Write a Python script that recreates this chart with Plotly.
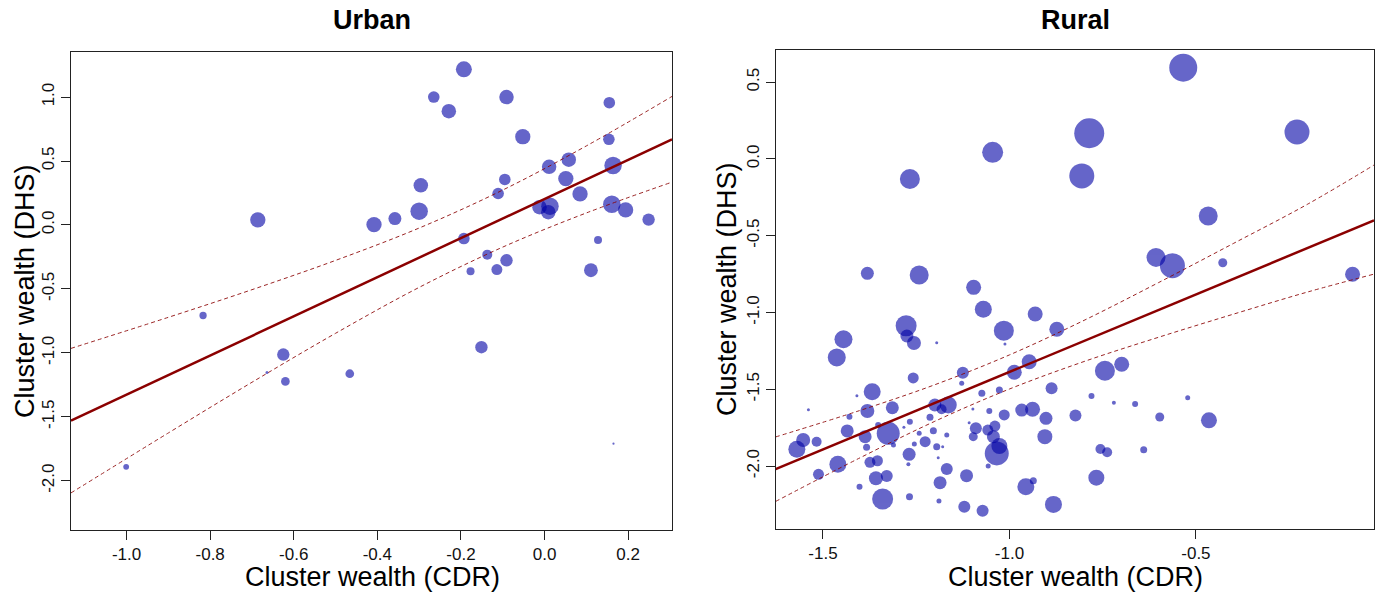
import plotly.graph_objects as go

# ---------------- data ----------------
urban_cdr = [-0.193, -0.265, -0.229, -0.091, 0.155, -0.052, 0.154, 0.058, 0.011, 0.164,
             0.051, -0.095, -0.296, -0.111, 0.085, -0.300, -0.358, -0.408, -0.686, -0.012,
             0.013, 0.009, 0.161, 0.194, 0.249, -0.193, 0.128, -0.137, -0.091, -0.177,
             -0.114, 0.111, -0.817, -0.625, -0.664, -0.620, -0.466, -0.151, -1.001, 0.165]
urban_dhs = [1.217, 1.00, 0.89, 1.00, 0.956, 0.69, 0.67, 0.51, 0.455, 0.465,
             0.363, 0.356, 0.31, 0.246, 0.243, 0.108, 0.05, 0.003, 0.04, 0.139,
             0.147, 0.10, 0.162, 0.118, 0.042, -0.106, -0.117, -0.232, -0.276, -0.362,
             -0.349, -0.354, -0.708, -1.013, -1.153, -1.223, -1.163, -0.956, -1.891, -1.71]
urban_weight = [16, 11.6, 14.5, 14.5, 11.6, 15.3, 11.6, 14.5, 14.5, 17.5,
                15.3, 11.6, 14.5, 11.6, 15.3, 17.5, 13, 15.3, 15.3, 14.5,
                17.5, 14.5, 17.5, 15.3, 12.4, 11.6, 8, 10, 12.4, 8,
                11, 13.8, 7.3, 12.4, 3, 8.7, 8.7, 12.4, 5.8, 2.2]

rural_cdr = [-1.267, -1.045, -0.534, -0.786, -0.806, -0.229, -0.467, -1.381, -1.242, -1.096,
             -1.070, -0.931, -0.873, -1.015, -1.277, -1.275, -1.256, -1.445, -1.195, -1.012,
             -1.463, -1.125, -1.258, -1.128, -1.368, -1.409, -1.074, -1.027, -0.987, -0.947,
             -0.887, -1.539, -1.314, -1.381, -1.200, -1.164, -1.182, -1.098, -1.054, -1.014,
             -0.967, -0.938, -0.902, -0.823, -1.429, -1.435, -1.553, -1.570, -1.517, -1.352,
             -1.387, -1.325, -1.267, -1.283, -1.242, -1.204, -1.213, -1.168, -1.226, -1.255,
             -1.195, -1.179, -1.383, -1.311, -1.269, -1.191, -1.090, -1.097, -1.058, -1.039,
             -1.043, -1.027, -1.034, -1.108, -0.905, -1.460, -1.374, -1.354, -1.271, -1.168,
             -1.057, -1.512, -1.358, -1.329, -1.115, -1.186, -1.402, -0.956, -0.936, -1.340,
             -1.268, -1.189, -1.121, -1.072, -0.882, -0.607, -0.563, -0.428, -0.080, -0.744,
             -0.699, -0.780, -0.720, -0.663, -0.522, -0.597, -0.465, -0.756, -0.738, -0.640,
             -0.767]
rural_dhs = [-0.131, 0.043, 0.594, 0.167, -0.111, 0.175, -0.372, -0.745, -0.756, -0.836,
             -0.979, -1.010, -1.109, -1.118, -1.086, -1.153, -1.198, -1.174, -1.197, -1.205,
             -1.292, -1.392, -1.426, -1.461, -1.516, -1.542, -1.526, -1.504, -1.389, -1.320,
             -1.493, -1.633, -1.620, -1.641, -1.602, -1.602, -1.630, -1.628, -1.641, -1.667,
             -1.635, -1.630, -1.689, -1.670, -1.678, -1.771, -1.830, -1.890, -1.841, -1.732,
             -1.808, -1.786, -1.711, -1.747, -1.786, -1.769, -1.682, -1.797, -1.841, -1.856,
             -1.874, -1.874, -1.877, -1.862, -1.923, -1.945, -1.754, -1.808, -1.765, -1.739,
             -1.808, -1.869, -1.917, -1.717, -1.808, -1.988, -1.975, -1.965, -1.988, -2.019,
             -1.999, -2.053, -2.079, -2.064, -2.062, -2.108, -2.134, -2.134, -2.095, -2.214,
             -2.199, -2.227, -2.264, -2.290, -2.249, -0.641, -0.695, -0.676, -0.751, -1.379,
             -1.337, -1.544, -1.587, -1.596, -1.555, -1.680, -1.702, -1.888, -1.910, -1.893,
             -2.075]
rural_weight = [20, 21, 28, 30, 25, 25, 19, 13, 19, 15,
                17, 15, 15, 20, 21, 13, 14, 18, 3, 3,
                18, 12, 11, 5, 17, 3, 7, 7, 15, 15,
                12, 3, 13, 14, 13, 17, 10, 3, 6, 11,
                13, 15, 13, 12, 6, 13, 14, 17, 10, 6,
                13, 23, 6, 3, 5, 7, 7, 5, 11, 5,
                7, 3, 7, 5, 13, 3, 12, 9, 11, 11,
                13, 16, 24, 3, 15, 17, 11, 11, 4, 12,
                5, 11, 14, 12, 13, 13, 6, 17, 7, 21,
                7, 5, 12, 12, 17, 19, 25, 9, 15, 20,
                15, 6, 4, 6, 5, 9, 16, 10, 10, 7,
                16]

# fitted line and 95% confidence band
urban_fit_x = [-1.133, -0.9, -0.7, -0.5, -0.3, -0.1, 0.1, 0.305]
urban_fit = [-1.530, -1.174, -0.868, -0.562, -0.256, 0.050, 0.356, 0.670]
urban_upper = [-0.965, -0.722, -0.506, -0.277, -0.024, 0.273, 0.618, 1.005]
urban_lower = [-2.095, -1.626, -1.230, -0.847, -0.488, -0.173, 0.094, 0.335]

rural_fit_x = [-1.627, -1.4, -1.2, -1.0, -0.8, -0.6, -0.4, -0.2, -0.0225]
rural_fit = [-2.02, -1.791, -1.589, -1.387, -1.185, -0.983, -0.781, -0.580, -0.400]
rural_upper = [-1.81, -1.637, -1.470, -1.276, -1.051, -0.805, -0.551, -0.294, -0.04]
rural_lower = [-2.23, -1.945, -1.708, -1.498, -1.319, -1.161, -1.011, -0.866, -0.75]

urban_xticks = [-1.0, -0.8, -0.6, -0.4, -0.2, 0.0, 0.2]
urban_xtext = ["-1.0", "-0.8", "-0.6", "-0.4", "-0.2", "0.0", "0.2"]
urban_yticks = [-2.0, -1.5, -1.0, -0.5, 0.0, 0.5, 1.0]
urban_ytext = ["-2.0", "-1.5", "-1.0", "-0.5", "0.0", "0.5", "1.0"]
rural_xticks = [-1.5, -1.0, -0.5]
rural_xtext = ["-1.5", "-1.0", "-0.5"]
rural_yticks = [-2.0, -1.5, -1.0, -0.5, 0.0, 0.5]
rural_ytext = ["-2.0", "-1.5", "-1.0", "-0.5", "0.0", "0.5"]

panel_titles = ["Urban", "Rural"]
x_title = "Cluster wealth (CDR)"
y_title = "Cluster wealth (DHS)"

# ---------------- styling ----------------
FONT = "Liberation Sans, Arial, Helvetica, sans-serif"
PT_COLOR = "rgba(0,0,165,0.6)"
LINE_COLOR = "#8B0000"
W, H = 1381, 598

fig = go.Figure()

def add_panel(xs, ys, ws, fx, fy, up, lo, xa, ya):
    fig.add_trace(go.Scatter(x=xs, y=ys, mode="markers", xaxis=xa, yaxis=ya,
                             marker=dict(size=ws, sizemode="diameter", sizeref=1,
                                         color=PT_COLOR, opacity=1, line=dict(width=0)),
                             showlegend=False, hoverinfo="x+y"))
    for band in (up, lo):
        fig.add_trace(go.Scatter(x=fx, y=band, mode="lines", xaxis=xa, yaxis=ya,
                                 line=dict(color=LINE_COLOR, width=1, dash="4px,3px",
                                           shape="spline"),
                                 opacity=0.85, showlegend=False, hoverinfo="skip"))
    fig.add_trace(go.Scatter(x=fx, y=fy, mode="lines", xaxis=xa, yaxis=ya,
                             line=dict(color=LINE_COLOR, width=2.5),
                             showlegend=False, hoverinfo="skip"))

add_panel(urban_cdr, urban_dhs, urban_weight, urban_fit_x, urban_fit,
          urban_upper, urban_lower, "x", "y")
add_panel(rural_cdr, rural_dhs, rural_weight, rural_fit_x, rural_fit,
          rural_upper, rural_lower, "x2", "y2")

def ax(domain, rng, tv, tt, anchor, angle=0):
    return dict(domain=domain, range=rng, anchor=anchor, tickvals=tv, ticktext=tt,
                ticks="outside", ticklen=9, tickwidth=1, tickcolor="#222",
                showline=True, linecolor="#222", linewidth=1, mirror=True,
                showgrid=False, zeroline=False, tickangle=angle,
                tickfont=dict(family=FONT, size=17, color="#111"))

L = (71, 672, 51.8, 530)
R = (775.6, 1374, 50, 528.5)

fig.update_layout(
    width=W, height=H, margin=dict(l=0, r=0, t=0, b=0),
    paper_bgcolor="white", plot_bgcolor="white",
    xaxis=ax([L[0] / W, L[1] / W], [-1.133, 0.305], urban_xticks, urban_xtext, "y"),
    yaxis=ax([1 - L[3] / H, 1 - L[2] / H], [-2.385, 1.354], urban_yticks, urban_ytext, "x", -90),
    xaxis2=ax([R[0] / W, R[1] / W], [-1.627, -0.0225], rural_xticks, rural_xtext, "y2"),
    yaxis2=ax([1 - R[3] / H, 1 - R[2] / H], [-2.406, 0.709], rural_yticks, rural_ytext, "x2", -90),
)

ann = []
for cx, t in ((372, panel_titles[0]), (1075, panel_titles[1])):
    ann.append(dict(x=cx / W, y=1 - 19.5 / H, xref="paper", yref="paper", text="<b>%s</b>" % t,
                    showarrow=False, xanchor="center", yanchor="middle",
                    font=dict(family=FONT, size=27, color="black")))
for cx in (372, 1075):
    ann.append(dict(x=cx / W, y=1 - 577 / H, xref="paper", yref="paper", text=x_title,
                    showarrow=False, xanchor="center", yanchor="middle",
                    font=dict(family=FONT, size=27, color="black")))
for cx, cy in ((25, 291), (727, 289)):
    ann.append(dict(x=cx / W, y=1 - cy / H, xref="paper", yref="paper", text=y_title,
                    showarrow=False, xanchor="center", yanchor="middle", textangle=-90,
                    font=dict(family=FONT, size=27, color="black")))
fig.update_layout(annotations=ann)

fig.write_html("out.html", config={"displayModeBar": False},
               post_script="document.body.style.margin='0px';"
                           "document.body.style.overflow='hidden';")
